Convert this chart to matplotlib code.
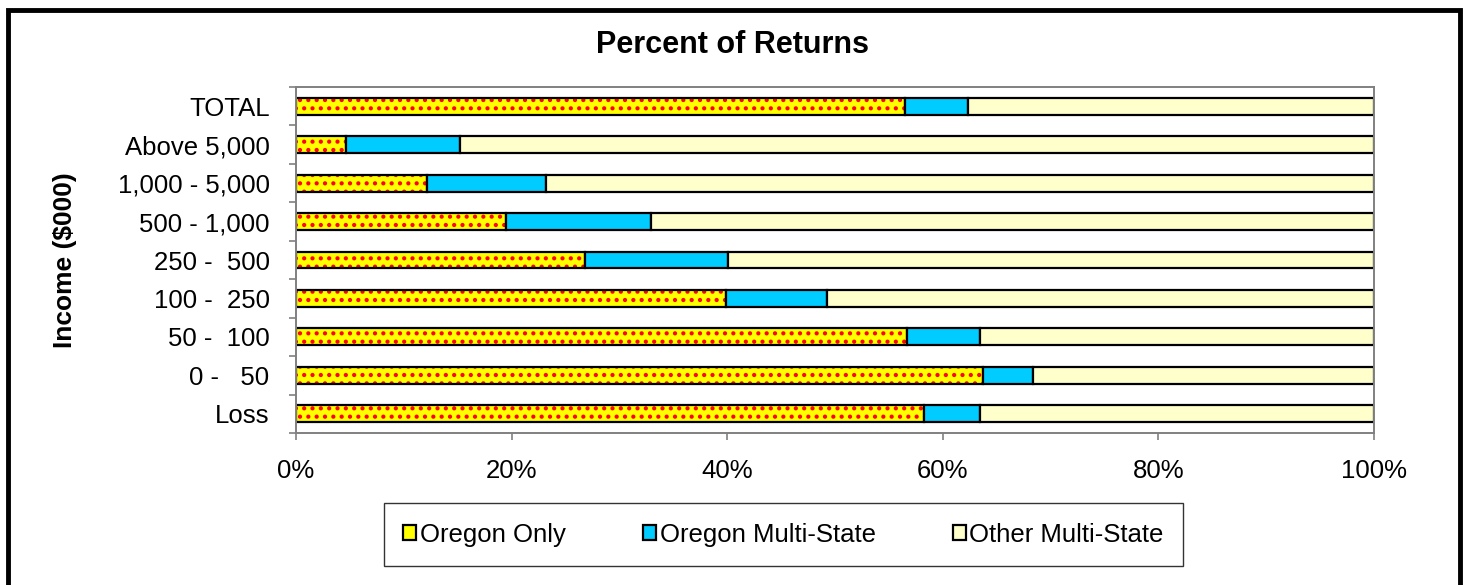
import numpy as np
import matplotlib
matplotlib.use("Agg")
import matplotlib.pyplot as plt
from matplotlib.patches import Rectangle, Patch
from matplotlib.ticker import FuncFormatter

# Income groups, bottom to top
categories = ["Loss", "0 -   50", "50 -  100", "100 -  250", "250 -  500",
              "500 - 1,000", "1,000 - 5,000", "Above 5,000", "TOTAL"]
# Percent of returns
oregon_only = [58.3, 63.7, 56.7, 39.9, 26.8, 19.5, 12.2, 4.6, 56.5]
oregon_multi = [5.2, 4.7, 6.8, 9.4, 13.3, 13.4, 11.0, 10.6, 5.8]
other_multi = [36.5, 31.6, 36.5, 50.7, 59.9, 67.1, 76.8, 84.8, 37.7]
series_names = ["Oregon Only", "Oregon Multi-State", "Other Multi-State"]

plt.rcParams['font.family'] = ['Liberation Sans', 'DejaVu Sans']
plt.rcParams['hatch.linewidth'] = 1.8

fig = plt.figure(figsize=(14.66, 5.85), dpi=100)
ax = fig.add_axes([0.2019, 0.2598, 0.7353, 0.5915])

y = np.arange(len(categories))
h = 0.44
lw = 1.6
oo = np.array(oregon_only)
om = np.array(oregon_multi)
ot = np.array(other_multi)

# yellow with red dots: hatch layer, then black outline
ax.barh(y, oo, height=h, color='#FFFF00', edgecolor='#FF0000', hatch='..', linewidth=0)
ax.barh(y, oo, height=h, color='none', edgecolor='black', linewidth=lw)
ax.barh(y, om, left=oo, height=h, color='#00CCFF', edgecolor='black', linewidth=lw)
ax.barh(y, ot, left=oo + om, height=h, color='#FFFFCC', edgecolor='black', linewidth=lw)

ax.set_xlim(0, 100)
ax.set_ylim(-0.5, len(categories) - 0.5)
ax.set_xticks(np.arange(0, 101, 20))
ax.xaxis.set_major_formatter(FuncFormatter(lambda v, p: f"{v:.0f}%"))
ax.set_yticks(y)
ax.set_yticklabels(categories)
ax.set_yticks(np.arange(-0.5, len(categories), 1), minor=True)
ax.tick_params(axis='y', which='major', length=0, pad=19, labelsize=18.5)
ax.tick_params(axis='y', which='minor', length=5, width=1.2, color='#808080')
ax.tick_params(axis='x', length=5, width=1.2, color='#808080', pad=14, labelsize=18.5)
for s in ax.spines.values():
    s.set_color('#808080')
    s.set_linewidth(1.4)

fig.text(0.5, 0.923, "Percent of Returns", ha='center', va='center',
         fontsize=22, fontweight='bold')
fig.text(0.0443, 0.5556, "Income ($000)", ha='center', va='center',
         rotation=90, fontsize=19, fontweight='bold')

# legend
handles = [
    Patch(facecolor='#FFFF00', edgecolor='black', linewidth=1.6),
    Patch(facecolor='#00CCFF', edgecolor='black', linewidth=1.6),
    Patch(facecolor='#FFFFCC', edgecolor='black', linewidth=1.6),
]
leg = fig.legend(handles, series_names, loc='center', bbox_to_anchor=(0.5345, 0.0863),
                 ncol=3, fontsize=18.5, frameon=True, fancybox=False,
                 handlelength=0.5, handleheight=0.5, handletextpad=0.15,
                 columnspacing=3.0, borderpad=0.75, borderaxespad=0)
leg.get_frame().set_edgecolor('black')
leg.get_frame().set_linewidth(1.0)

# outer chart border
fig.patches.append(Rectangle((7.5 / 1466, -0.05), 1452 / 1466, 1.05 - 10 / 585,
                             transform=fig.transFigure, fill=False,
                             edgecolor='black', linewidth=3.5, clip_on=False))

fig.savefig("out.png", dpi=100)
